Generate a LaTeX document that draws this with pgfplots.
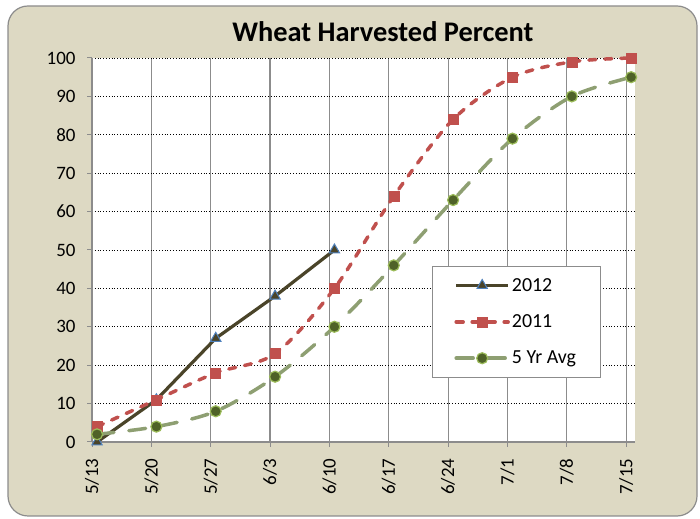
\documentclass[border=0pt]{standalone}
\usepackage{fontspec}
\setmainfont{Carlito}
\usepackage{pgfplots}
\pgfplotsset{compat=1.18}
\definecolor{bgbeige}{HTML}{DDD9C3}
\definecolor{frame}{HTML}{8C8C8C}
\definecolor{olivedark}{HTML}{4A4429}
\definecolor{tblue}{HTML}{4F81BD}
\definecolor{sred}{HTML}{C0504D}
\definecolor{gline}{HTML}{8E9F72}
\definecolor{gfill}{HTML}{4F6228}
\definecolor{gedge}{HTML}{9BBB59}
\definecolor{gridgray}{HTML}{8C8C8C}
\begin{document}
\begin{tikzpicture}[x=1bp,y=1bp]
\useasboundingbox (0,0) rectangle (700,519);
\draw[fill=bgbeige, draw=frame, line width=1.2bp, rounded corners=20bp] (8,3) rectangle (697,513);
\node[font=\fontsize{28.5}{30}\selectfont\bfseries] at (383,487) {Wheat Harvested Percent};
\begin{axis}[
  at={(92bp,77bp)}, anchor=south west,
  scale only axis, width=543bp, height=384bp,
  xmin=0, xmax=9.15, ymin=0, ymax=100,
  xtick={0,1,...,9},
  xticklabels={5/13,5/20,5/27,6/3,6/10,6/17,6/24,7/1,7/8,7/15},
  ytick={0,10,...,100},
  /pgf/number format/assume math mode=true,
  tick label style={font=\fontsize{19}{21}\selectfont},
  xticklabel style={yshift=-8bp, rotate=90, anchor=east},
  yticklabel style={xshift=-8bp},
  axis x line*=bottom, axis y line*=left,
  axis line style={-, draw=gridgray, line width=1.2bp},
  tick align=outside, major tick length=5bp,
  tick style={draw=gridgray, line width=1bp},
  xmajorgrids, ymajorgrids,
  x grid style={draw=gridgray, line width=1.1bp, solid},
  y grid style={draw=black, line width=0.8bp, dotted},
  axis background/.style={fill=white},
  clip=false,
  legend style={at={(0.626,0.167)}, anchor=south west, draw=gridgray, line width=1bp,
    fill=white, font=\fontsize{20}{22}\selectfont, inner xsep=22bp, inner ysep=10bp,
    row sep=18bp, cells={anchor=west}},
  legend image code/.code={\draw[mark repeat=2,mark phase=2,#1] plot coordinates {(0bp,0bp)(26bp,0bp)(52bp,0bp)};},
]
\addplot[olivedark, line width=3.2bp, mark=triangle*, mark size=6bp,
  mark options={fill=olivedark, draw=tblue, line width=1bp, solid}]
  coordinates {(0.085,0)(1.085,11)(2.085,27)(3.085,38)(4.085,50)};
\addlegendentry{2012}
\addplot[sred, line width=3.5bp, line cap=round, dash pattern=on 7bp off 9bp, smooth, tension=0.5,
  mark=square*, mark size=5bp, mark options={fill=sred, draw=sred, line width=0.5bp, solid}]
  coordinates {(0.085,4)(1.085,11)(2.085,18)(3.085,23)(4.085,40)(5.085,64)(6.085,84)(7.085,95)(8.085,99)(9.085,100)};
\addlegendentry{2011}
\addplot[gline, line width=3.5bp, line cap=round, dash pattern=on 17bp off 15bp, smooth, tension=0.5,
  mark=*, mark size=5.5bp, mark options={fill=gfill, draw=gedge, line width=1.2bp, solid}]
  coordinates {(0.085,2)(1.085,4)(2.085,8)(3.085,17)(4.085,30)(5.085,46)(6.085,63)(7.085,79)(8.085,90)(9.085,95)};
\addlegendentry{5 Yr Avg}
\end{axis}
\end{tikzpicture}
\end{document}
